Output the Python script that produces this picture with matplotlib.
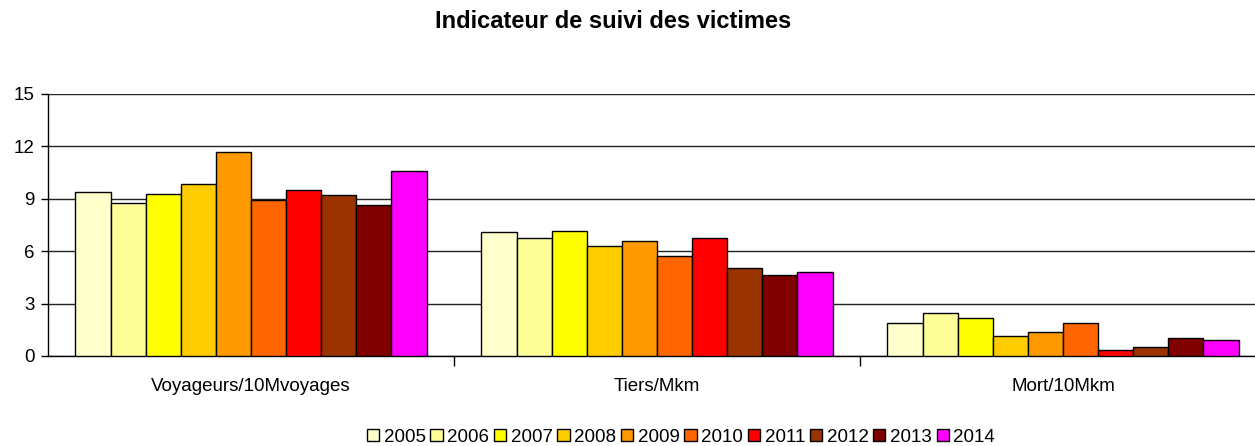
import matplotlib
matplotlib.use("Agg")

import matplotlib.pyplot as plt
import numpy as np
from matplotlib.patches import Patch

plt.rcParams["font.family"] = ["Liberation Sans", "DejaVu Sans"]

categories = ["Voyageurs/10Mvoyages", "Tiers/Mkm", "Mort/10Mkm"]
years = ["2005", "2006", "2007", "2008", "2009", "2010", "2011", "2012", "2013", "2014"]
colors = ["#FFFFCC", "#FFFF99", "#FFFF00", "#FFCC00", "#FF9900",
          "#FF6600", "#FF0000", "#993300", "#800000", "#FF00FF"]

v2005 = [9.40, 7.11, 1.89]
v2006 = [8.75, 6.73, 2.44]
v2007 = [9.30, 7.18, 2.17]
v2008 = [9.85, 6.29, 1.16]
v2009 = [11.70, 6.56, 1.35]
v2010 = [8.94, 5.74, 1.89]
v2011 = [9.51, 6.73, 0.34]
v2012 = [9.22, 5.01, 0.53]
v2013 = [8.67, 4.65, 1.01]
v2014 = [10.62, 4.82, 0.90]
series = [v2005, v2006, v2007, v2008, v2009, v2010, v2011, v2012, v2013, v2014]

yticks = [0, 3, 6, 9, 12, 15]

W, H = 1255, 446
fig = plt.figure(figsize=(W / 100, H / 100), dpi=100)
# axes runs past the right edge, as in the cropped original
left, right, bottom, top = 48, 1266, 356, 94
ax = fig.add_axes([left / W, 1 - bottom / H, (right - left) / W, (bottom - top) / H])

x = np.arange(len(categories))
n = len(series)
bw = 0.865 / n
for i, (vals, col) in enumerate(zip(series, colors)):
    ax.bar(x - 0.865 / 2 + bw * (i + 0.5), vals, width=bw, color=col,
           edgecolor="black", linewidth=1.0, zorder=3, label=years[i])

ax.set_xlim(-0.5, len(categories) - 0.5)
ax.set_ylim(0, 15)
ax.set_yticks(yticks)
ax.set_yticklabels([str(t) for t in yticks], fontsize=13.5)
ax.yaxis.grid(True, color="#222222", linewidth=1.0, zorder=0)
ax.tick_params(axis="y", direction="out", length=5, width=1, pad=4.5)

ax.set_xticks([0.5, 1.5, 2.5])
ax.set_xticklabels([])
ax.set_xticks(x, minor=True)
ax.set_xticklabels(categories, minor=True, fontsize=13.5)
ax.tick_params(axis="x", which="major", direction="out", length=7, width=1)
ax.tick_params(axis="x", which="minor", length=0, pad=16)

for s in ["top", "right"]:
    ax.spines[s].set_visible(False)
for s in ["left", "bottom"]:
    ax.spines[s].set_color("black")
    ax.spines[s].set_linewidth(1.0)

fig.text(613 / W, 1 - 22 / H, "Indicateur de suivi des victimes",
         ha="center", va="center", fontsize=17, fontweight="bold")

handles = [Patch(facecolor=c, edgecolor="black", linewidth=1.0) for c in colors]
fig.legend(handles, years, loc="center", bbox_to_anchor=(681 / W, 1 - 437 / H),
           ncol=n, frameon=False, fontsize=13.5, handlelength=0.65, handleheight=0.65,
           handletextpad=0.25, columnspacing=0.25, borderpad=0)

fig.savefig("out.png", dpi=100)
